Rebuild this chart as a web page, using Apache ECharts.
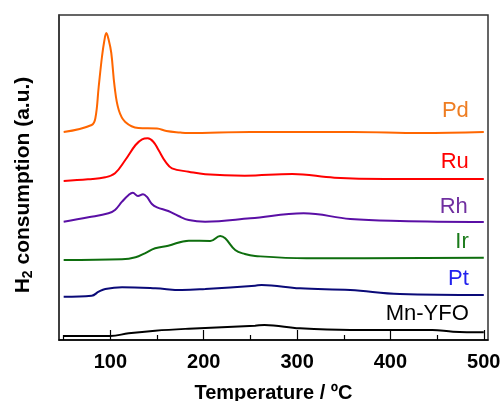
<!DOCTYPE html>
<html>
<head>
<meta charset="utf-8">
<script src="https://cdn.jsdelivr.net/npm/echarts@6/dist/echarts.min.js"></script>
<style>
  html, body { margin: 0; padding: 0; background: #fff; }
  #chart { width: 504px; height: 401px; }
</style>
</head>
<body>
<div id="chart"></div>
<script>
// temperatures (°C) and stacked H2 signal (arbitrary, offset per sample)
const pdT = [50, 80, 84, 87.5, 91, 93.5, 95.7, 98, 101, 104.6, 109, 116, 130, 150, 160, 175, 183, 250, 359, 433, 500];
const pdV = [208, 215, 222, 253, 283, 299, 307, 301, 287, 253, 230, 218, 212, 211.5, 209, 207.5, 207, 208, 208, 207, 208];

const ruT = [50, 76, 94.6, 105, 116, 127, 134, 140, 146, 151.6, 159, 166, 184, 201.6, 244, 295, 340, 394, 500];
const ruV = [159, 160.7, 162.7, 166.7, 180, 195, 200.7, 201.7, 198.3, 190, 178.3, 171.7, 168.3, 165.7, 164.3, 166, 162.3, 161, 161];

const rhT = [50, 76.5, 98, 105, 112.5, 119.6, 124, 129.6, 135, 139, 144.5, 150, 162, 173, 184, 201.5, 250, 307, 357, 410, 500];
const rhV = [118.3, 122.7, 126.7, 130, 138.3, 145, 147.3, 144, 145.7, 143.3, 136, 132.7, 129, 124, 120, 118.3, 121.7, 126.7, 121, 119, 118];

const irT = [50, 112.5, 127, 137, 148, 162, 184, 207, 217.6, 223, 233.7, 244, 255, 310, 500];
const irV = [80, 80.7, 82.7, 86.7, 91.7, 94.3, 99.3, 99, 104, 101.7, 90, 86, 84, 81.7, 82.3];

const ptT = [50, 80, 87.5, 94.6, 112.5, 148, 176.7, 201.6, 255, 262, 303, 357, 410, 500];
const ptV = [43.3, 44.3, 48.3, 51, 52.7, 51.7, 50, 51, 54.3, 55, 51.7, 50, 46, 45];

const mnT = [50, 100, 119.6, 148, 184, 255, 265, 303, 357, 417, 445, 467, 500];
const mnV = [4, 4, 6.7, 9.3, 11.3, 14.3, 15, 11.7, 10, 10, 10, 8.3, 7.7];

const names = ["Pd", "Ru", "Rh", "Ir", "Pt", "Mn-YFO"];
const temps = [pdT, ruT, rhT, irT, ptT, mnT];
const values = [pdV, ruV, rhV, irV, ptV, mnV];
const majorTicks = [100, 200, 300, 400, 500];
const minorTicks = [50, 150, 250, 350, 450];

const lineColors = ["#ff6600", "#ff0000", "#5a0fa5", "#0e6e0e", "#0a0a78", "#000000"];
const labelColors = ["#ee7d22", "#ff0000", "#7030a0", "#1a7a1a", "#2222ee", "#000000"];
const labelShift = [[-15, -21], [-15, -17], [-16, -15], [-15, -16], [-15, -16], [-15, -18]];

const FONT = "'Liberation Sans', Arial, sans-serif";

const chart = echarts.init(document.getElementById("chart"));

const series = names.map((n, i) => ({
  name: n,
  type: "line",
  xAxisIndex: 0,
  data: temps[i].map((t, k) => [t, values[i][k]]),
  showSymbol: false,
  smooth: 0.4,
  lineStyle: { color: lineColors[i], width: 2 },
  itemStyle: { color: lineColors[i] },
  silent: true,
}));

chart.setOption({
  animation: false,
  grid: {
    left: 59, right: 16, top: 15, bottom: 61,
    outerBoundsMode: "none",
    show: true, borderColor: "#333", borderWidth: 1.5,
  },
  xAxis: [
    {
      type: "value",
      min: 45,
      max: 504.5,
      position: "bottom",
      name: "Temperature / \u00baC",
      nameLocation: "middle",
      nameGap: 43,
      nameTextStyle: { fontFamily: FONT, fontSize: 20, fontWeight: "bold", color: "#000" },
      axisLine: { lineStyle: { color: "#000", width: 1.5 } },
      axisTick: { inside: true, length: 10, customValues: majorTicks, lineStyle: { color: "#000", width: 1.2 } },
      axisLabel: { customValues: majorTicks, margin: 12, fontFamily: FONT, fontSize: 20, fontWeight: "bold", color: "#000" },
      splitLine: { show: false },
    },
    {
      type: "value",
      min: 45,
      max: 504.5,
      position: "bottom",
      axisLine: { show: false },
      axisTick: { inside: true, length: 5, customValues: minorTicks, lineStyle: { color: "#000", width: 1.2 } },
      axisLabel: { show: false },
      splitLine: { show: false },
    },
  ],
  yAxis: {
    type: "value",
    min: 0,
    max: 325,
    axisLine: { show: true, lineStyle: { color: "#333", width: 1.5 } },
    axisTick: { show: false },
    axisLabel: { show: false },
    splitLine: { show: false },
  },
  series: series,
});

// curve labels sit just above the right end of each trace
const labels = names.map((n, i) => {
  const T = temps[i], V = values[i];
  const p = chart.convertToPixel({ seriesIndex: i }, [T[T.length - 1], V[V.length - 1]]);
  return {
    type: "text",
    x: p[0] + labelShift[i][0],
    y: p[1] + labelShift[i][1],
    silent: true,
    style: {
      text: n,
      fill: labelColors[i],
      font: "22px " + FONT,
      align: "right",
      verticalAlign: "middle",
    },
  };
});

labels.push({
  type: "text",
  x: 23,
  y: 185,
  rotation: Math.PI / 2,
  silent: true,
  style: {
    text: "{b|H}{s|2}{b| consumption (a.u.)}",
    align: "center",
    verticalAlign: "middle",
    rich: {
      b: { font: "bold 21px " + FONT, fill: "#000", lineHeight: 24 },
      s: { font: "bold 14px " + FONT, fill: "#000", verticalAlign: "bottom", lineHeight: 24 },
    },
  },
});

chart.setOption({ graphic: labels });
</script>
</body>
</html>
